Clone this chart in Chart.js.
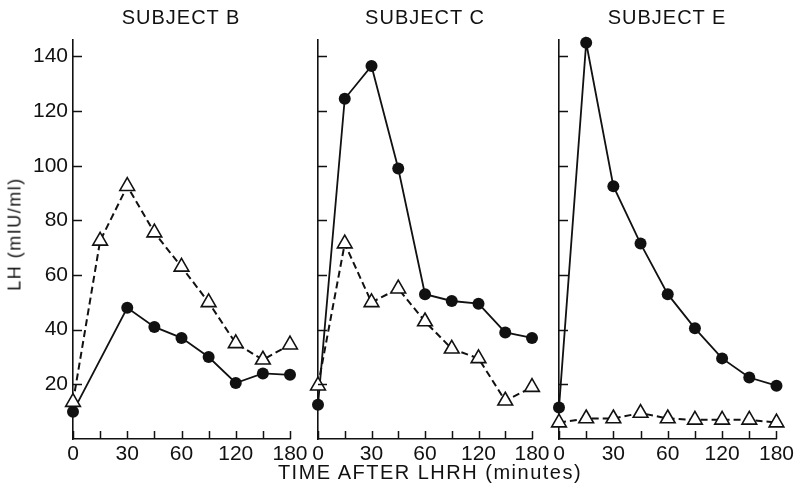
<!DOCTYPE html>
<html>
<head>
<meta charset="utf-8">
<script src="https://cdn.jsdelivr.net/npm/chart.js@4/dist/chart.umd.min.js"></script>
<style>
  body{margin:0;background:#fff;}
  #wrap{position:relative;width:797px;height:485px;overflow:hidden;font-family:"Liberation Sans",Arial,sans-serif;color:#111;}
  #wrap canvas{position:absolute;left:0;top:0;}
  .ttl{position:absolute;font-size:20px;letter-spacing:1px;white-space:nowrap;transform:translateX(-50%);}
  #xTitle{position:absolute;left:430px;top:461px;font-size:20px;letter-spacing:1.5px;white-space:nowrap;transform:translateX(-50%);}
  #yTitle{position:absolute;left:15px;top:234px;font-size:18px;letter-spacing:1.5px;white-space:nowrap;transform:translate(-50%,-50%) rotate(-90deg);}
</style>
</head>
<body>
<div id="wrap">
  <canvas id="cB" width="797" height="485"></canvas>
  <canvas id="cC" width="797" height="485"></canvas>
  <canvas id="cE" width="797" height="485"></canvas>
  <div class="ttl" style="left:181px;top:6px">SUBJECT B</div>
  <div class="ttl" style="left:425px;top:6px">SUBJECT C</div>
  <div class="ttl" style="left:667px;top:6px">SUBJECT E</div>
  <div id="xTitle">TIME AFTER LHRH (minutes)</div>
  <div id="yTitle">LH (mIU/ml)</div>
</div>
<script>
// sampling times (minutes), evenly spaced on the axis
const times = ['0','15','30','45','60','90','120','150','180'];
const shownTimes = ['0','30','60','120','180'];
const yTicks = [20,40,60,80,100,120,140];

// LH values, mIU/ml  (circles = solid line, triangles = dashed line)
const circB = [10, null, 48, 41, 37, 30, 20.5, 24, 23.5];
const triB  = [13.5, 72.5, 92.5, 75.5, 63, 50, 35, 29, 34.5];
const circC = [12.5, 124.5, 136.5, 99, 53, 50.5, 49.5, 39, 37];
const triC  = [19.5, 71.5, 50, 55, 43, 33, 29.5, 14, 19];
const circE = [11.5, 145, 92.5, 71.5, 53, 40.5, 29.5, 22.5, 19.5];
const triE  = [6, 7.5, 7.5, 9.5, 7.5, 7, 7, 7, 6];

// inward tick marks on both axes
const inTicks = {
  id:'inTicks',
  afterDraw(chart){
    const {ctx, chartArea:a, scales:{x, y}} = chart;
    ctx.save(); ctx.strokeStyle='#111'; ctx.lineWidth=1.5; ctx.beginPath();
    times.forEach((t,i)=>{ const px=Math.round(x.getPixelForValue(i))+0.5; ctx.moveTo(px,a.bottom); ctx.lineTo(px,a.bottom-8); });
    yTicks.forEach(v=>{ const py=Math.round(y.getPixelForValue(v))+0.5; ctx.moveTo(a.left,py); ctx.lineTo(a.left+9,py); });
    ctx.stroke(); ctx.restore();
  }
};

function makePanel(id, circ, tri, padL, padR, showY){
  new Chart(document.getElementById(id), {
    type:'line',
    data:{labels:times, datasets:[
      {data:tri, borderColor:'#111', borderWidth:2, borderDash:[7,4], pointStyle:'triangle', pointRadius:8.5,
       pointBackgroundColor:'#fff', pointBorderColor:'#111', pointBorderWidth:1.6, spanGaps:true, clip:false, order:1},
      {data:circ, borderColor:'#111', borderWidth:1.8, pointStyle:'circle', pointRadius:6,
       pointBackgroundColor:'#111', pointBorderColor:'#111', pointBorderWidth:0, spanGaps:true, clip:false, order:2}
    ]},
    options:{
      responsive:false, animation:false, events:[],
      layout:{padding:{left:padL, right:padR, top:40, bottom:0}},
      plugins:{legend:{display:false}, tooltip:{enabled:false}},
      scales:{
        x:{type:'category', offset:false,
           afterFit(s){ s.height = 46; },
           grid:{display:false, drawTicks:false},
           border:{display:true, color:'#111', width:1.6},
           ticks:{autoSkip:false, maxRotation:0, padding:3, color:'#111',
                  font:{family:'"Liberation Sans", Arial, sans-serif', size:21},
                  callback(v){ const t=times[v]; return shownTimes.includes(t)?t:''; }}},
        y:{min:0, max:146,
           afterFit(s){ s.width = showY ? 73 : 0; },
           grid:{display:false, drawTicks:false},
           border:{display:true, color:'#111', width:1.6},
           ticks:{display:showY, stepSize:20, includeBounds:false, padding:5, color:'#111',
                  font:{family:'"Liberation Sans", Arial, sans-serif', size:21},
                  callback(v){ return v===0 ? '' : v; }}}
      }
    },
    plugins:[inTicks]
  });
}

makePanel('cB', circB, triB, 0, 507, true);
makePanel('cC', circC, triC, 318, 265, false);
makePanel('cE', circE, triE, 559, 20, false);
</script>
</body>
</html>
